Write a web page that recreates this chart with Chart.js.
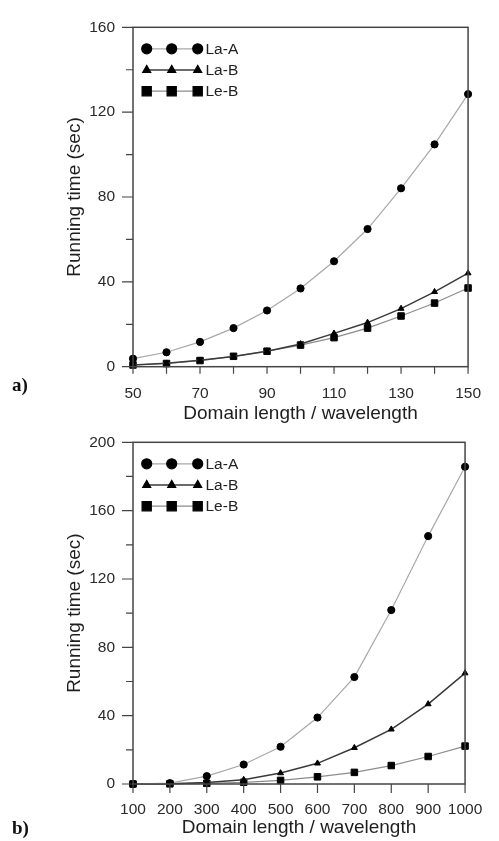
<!DOCTYPE html>
<html>
<head>
<meta charset="utf-8">
<script src="https://cdn.jsdelivr.net/npm/chart.js@4.4.0/dist/chart.umd.min.js"></script>
<style>
body{margin:0;background:#fff;width:499px;height:841px;position:relative;overflow:hidden;font-family:"Liberation Sans",Arial,sans-serif;}
.box{position:absolute;left:0;width:499px;}
#boxA{top:0;height:430px;}
#boxB{top:415px;height:426px;}
.tag{position:absolute;left:12px;font:bold 19px/19px "Liberation Serif","Times New Roman",serif;color:#111;}
</style>
</head>
<body>
<div class="box" id="boxA"><canvas id="chartA" width="499" height="430"></canvas></div>
<div class="box" id="boxB"><canvas id="chartB" width="499" height="426"></canvas></div>
<div class="tag" style="top:375px">a)</div>
<div class="tag" style="top:818px">b)</div>
<script>
// series names
const seriesNames = ['La-A', 'La-B', 'Le-B'];

// panel a) domain length 50..150
const lenA = [50, 60, 70, 80, 90, 100, 110, 120, 130, 140, 150];
const laA_a = [3.8, 6.8, 11.7, 18.2, 26.5, 36.9, 49.7, 64.9, 84.1, 104.8, 128.5];
const laB_a = [0.8, 1.6, 3.0, 4.8, 7.3, 10.7, 15.7, 20.8, 27.4, 35.3, 44.1];
const leB_a = [0.8, 1.5, 2.9, 4.9, 7.3, 10.2, 13.7, 18.2, 23.9, 30.0, 37.1];
const yMinorA = [20, 60, 100, 140];
const xMinorA = [60, 80, 100, 120, 140];

// panel b) domain length 100..1000
const lenB = [100, 200, 300, 400, 500, 600, 700, 800, 900, 1000];
const laA_b = [0, 0.5, 4.6, 11.4, 21.8, 38.9, 62.6, 101.8, 145.1, 185.7];
const laB_b = [0, 0.2, 0.9, 2.5, 6.4, 12.1, 21.2, 32.0, 46.8, 64.9];
const leB_b = [0, 0.1, 0.4, 1.0, 2.1, 4.2, 6.8, 10.8, 16.1, 22.2];
const yMinorB = [20, 60, 100, 140, 180];
const xMinorB = [];

Chart.defaults.font.family = '"Liberation Sans", Arial, sans-serif';
Chart.defaults.color = '#2a2a2a';

const looks = [
    {pointStyle: 'circle', borderColor: '#a8a8a8', borderWidth: 1.2, radius: 3.6, legendRadius: 5},
    {pointStyle: 'triangle', borderColor: '#3a3a3a', borderWidth: 1.5, radius: 3.4, legendRadius: 4.3},
    {pointStyle: 'rect', borderColor: '#8c8c8c', borderWidth: 1.2, radius: 4.6, legendRadius: 6.5}
];

// box + tick marks (major and minor)
const framePlugin = {
    id: 'framePlugin',
    afterDraw(chart, args, opts) {
        const ctx = chart.ctx;
        const a = chart.chartArea;
        const x = chart.scales.x, y = chart.scales.y;
        ctx.save();
        ctx.strokeStyle = '#454545';
        ctx.lineWidth = 1.2;
        ctx.beginPath();
        y.ticks.forEach(t => { const p = y.getPixelForValue(t.value); ctx.moveTo(a.left - 11, p); ctx.lineTo(a.left, p); });
        opts.yMinor.forEach(v => { const p = y.getPixelForValue(v); ctx.moveTo(a.left - 7, p); ctx.lineTo(a.left, p); });
        x.ticks.forEach(t => { const p = x.getPixelForValue(t.value); ctx.moveTo(p, a.bottom); ctx.lineTo(p, a.bottom + opts.xTick); });
        opts.xMinor.forEach(v => { const p = x.getPixelForValue(v); ctx.moveTo(p, a.bottom); ctx.lineTo(p, a.bottom + opts.xTick); });
        ctx.stroke();
        ctx.lineWidth = 1.5;
        ctx.strokeRect(a.left, a.top, a.right - a.left, a.bottom - a.top);
        ctx.restore();
    }
};

// legend with three markers joined by a line, top-left inside the plot
const markerLegend = {
    id: 'markerLegend',
    afterDatasetsDraw(chart) {
        const ctx = chart.ctx;
        const a = chart.chartArea;
        const xs = [13.7, 38.7, 64.7];
        chart.data.datasets.forEach((ds, i) => {
            const py = a.top + 21.5 + i * 21.2;
            const lk = looks[i];
            ctx.save();
            ctx.strokeStyle = ds.borderColor;
            ctx.lineWidth = ds.borderWidth;
            ctx.beginPath();
            ctx.moveTo(a.left + xs[0], py);
            ctx.lineTo(a.left + xs[2], py);
            ctx.stroke();
            ctx.fillStyle = '#000';
            ctx.strokeStyle = '#000';
            xs.forEach(dx => Chart.helpers.drawPoint(ctx, {pointStyle: lk.pointStyle, radius: lk.legendRadius, rotation: 0, borderWidth: 1}, a.left + dx, py));
            ctx.fillStyle = '#222';
            ctx.font = '15.5px "Liberation Sans", Arial, sans-serif';
            ctx.textBaseline = 'middle';
            ctx.textAlign = 'left';
            ctx.fillText(ds.label, a.left + 72.5, py + 0.5);
            ctx.restore();
        });
    }
};

function makeChart(elementId, lens, series, p) {
    var ctx = document.getElementById(elementId).getContext('2d');
    return new Chart(ctx, {
        type: 'line',
        data: {
            datasets: series.map((vals, i) => ({
                label: seriesNames[i],
                data: lens.map((l, j) => ({x: l, y: vals[j]})),
                borderColor: looks[i].borderColor,
                borderWidth: looks[i].borderWidth,
                pointStyle: looks[i].pointStyle,
                pointRadius: looks[i].radius,
                pointBackgroundColor: '#000',
                pointBorderColor: '#000',
                pointBorderWidth: 1,
                tension: 0,
                clip: false
            }))
        },
        options: {
            responsive: false,
            animation: false,
            events: [],
            layout: {padding: {left: 0, top: p.top, right: p.right, bottom: 0}},
            plugins: {
                legend: {display: false},
                tooltip: {enabled: false},
                framePlugin: {yMinor: p.yMinor, xMinor: p.xMinor, xTick: p.xTick}
            },
            scales: {
                x: {
                    type: 'linear',
                    min: p.xMin, max: p.xMax,
                    ticks: {stepSize: p.xStep, padding: p.xPad, maxRotation: 0, autoSkip: false, font: {size: 15.5}, color: '#2a2a2a',
                        callback: v => String(v)},
                    grid: {display: false, drawTicks: false},
                    border: {display: false},
                    title: {display: true, text: 'Domain length / wavelength', font: {size: 19}, color: '#1e1e1e', padding: {top: 0, bottom: p.xTitlePad}},
                    afterFit: s => { s.height = p.xHeight; }
                },
                y: {
                    min: 0, max: p.yMax,
                    ticks: {stepSize: 40, padding: 18, font: {size: 15.5}, color: '#2a2a2a', callback: v => String(v)},
                    grid: {display: false, drawTicks: false},
                    border: {display: false},
                    title: {display: true, text: 'Running time (sec)', font: {size: 19}, color: '#1e1e1e', padding: {top: 63.6, bottom: 0}},
                    afterFit: s => { s.width = 133; }
                }
            }
        },
        plugins: [framePlugin, markerLegend]
    });
}

makeChart('chartA', lenA, [laA_a, laB_a, leB_a], {
    top: 16, right: 12.3, xHeight: 63.3, xMin: 50, xMax: 150, xStep: 20, xPad: 18,
    xTitlePad: 4.6, yMax: 160, yMinor: yMinorA, xMinor: xMinorA, xTick: 7
});
makeChart('chartB', lenB, [laA_b, laB_b, leB_b], {
    top: 17.7, right: 17.5, xHeight: 57, xMin: 100, xMax: 1000, xStep: 100, xPad: 16.7,
    xTitlePad: 2.1, yMax: 200, yMinor: yMinorB, xMinor: xMinorB, xTick: 9
});
</script>
</body>
</html>
